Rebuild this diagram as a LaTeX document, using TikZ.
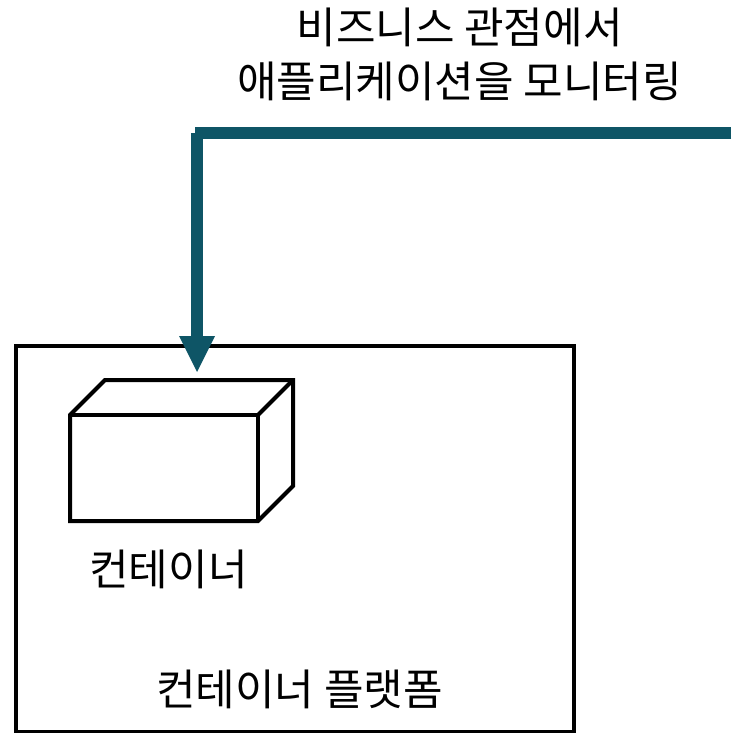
\documentclass[tikz,border=0pt]{standalone}
\usepackage{fontspec}
\newfontfamily\cjk{Noto Sans CJK KR}
\begin{document}
\begin{tikzpicture}[x=1pt,y=-1pt,
  lbl/.style={font=\cjk\fontsize{43}{54}\selectfont,align=center,inner sep=0pt,text=black},
  boxln/.style={draw=black,line width=4pt,line join=miter},
  conn/.style={draw=arrowc,line width=12pt}]
\definecolor{arrowc}{HTML}{0E5566}
\useasboundingbox (0,0) rectangle (731,733);
\draw[boxln] (15.5,345.5) rectangle (574,731.5);
\draw[boxln] (70,415) -- (105,380) -- (293,380) -- (293,486) -- (258,521) -- (70,521) -- cycle;
\draw[boxln] (70,415) -- (258,415) -- (258,521);
\draw[boxln] (258,415) -- (293,380);
\node[lbl] (t1) at (459.5,54) {비즈니스 관점에서\\애플리케이션을 모니터링};
\node[lbl] (t2) at (168.5,569) {컨테이너};
\node[lbl] (t3) at (299.5,689) {컨테이너 플랫폼};
\coordinate (s) at (731,133);
\coordinate (c) at (195,133);
\coordinate (v) at (197,133);
\coordinate (e) at (197,340);
\draw[conn] (s) -- (c);
\draw[conn] (v) -- (e);
\fill[arrowc] (179,336) -- (215,336) -- (197,372) -- cycle;
\end{tikzpicture}
\end{document}
